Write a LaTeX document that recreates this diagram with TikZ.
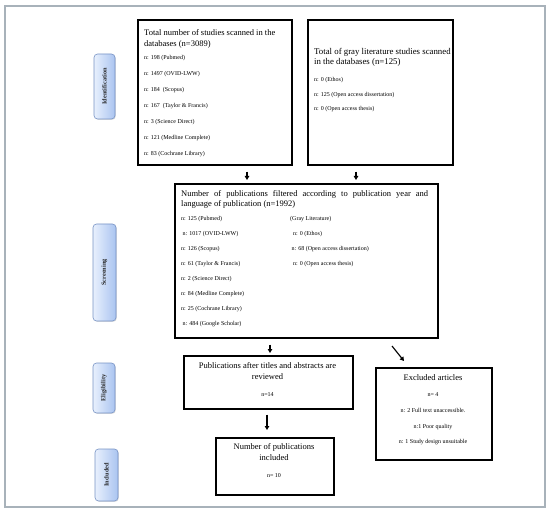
\documentclass[tikz,border=0pt]{standalone}
\usepackage{fontspec}
\setmainfont{Liberation Serif}
\usetikzlibrary{arrows.meta,shadows}
\definecolor{framec}{RGB}{168,178,186}
\definecolor{labL}{RGB}{232,240,253}
\definecolor{labR}{RGB}{170,196,240}
\definecolor{labD}{RGB}{118,146,196}
\begin{document}
\begin{tikzpicture}[x=1pt,y=-1pt,
  box/.style={draw=black,line width=1.6pt,inner sep=0pt,anchor=north west},
  ttl/.style={inner sep=0pt,anchor=north west,align=left,font=\fontsize{8.5}{10.4}\selectfont},
  ctl/.style={inner sep=0pt,anchor=north,align=center,font=\fontsize{8.5}{11}\selectfont},
  ent/.style={inner sep=0pt,anchor=north west,align=left,font=\fontsize{6}{15.9}\selectfont},
  small/.style={inner sep=0pt,anchor=base,font=\fontsize{6}{7}\selectfont},
  lab/.style={draw=labD,line width=0.6pt,rounded corners=3.5pt,left color=labL,right color=labR,
    drop shadow={opacity=0.25,shadow xshift=0.8pt,shadow yshift=-0.8pt},
    inner sep=0pt,font=\fontsize{6.3}{7}\selectfont\bfseries,text=black!85},
  arr/.style={line width=1.1pt,-{Triangle[length=4pt,width=4.5pt]}}]
\useasboundingbox (0,0) rectangle (550,511);
\draw[framec,line width=1.4pt] (5,6) rectangle (545,507);

% stage labels
\node[lab,minimum width=21pt,minimum height=65pt] (lid) at (104.5,86.5) {\rotatebox{90}{Identification}};
\node[lab,minimum width=23pt,minimum height=97pt] (lsc) at (104.5,272.5) {\rotatebox{90}{Screening}};
\node[lab,minimum width=22pt,minimum height=50pt] (lel) at (104,388) {\rotatebox{90}{Eligibility}};
\node[lab,minimum width=23pt,minimum height=52pt] (lin) at (106.5,475) {\rotatebox{90}{Included}};

% box 1
\node[box,minimum width=154pt,minimum height=145pt] (b1) at (137,19) {};
\node[ttl] (t1) at (144,29.5) {Total number of studies scanned in the\\databases (n=3089)};
\node[ent] (e1) at (144,55.5) {n: 198 (Pubmed)\\n: 1497 (OVID-LWW)\\n: 184\ \ (Scopus)\\n: 167\ \ (Taylor \& Francis)\\n: 3 (Science Direct)\\n: 121 (Medline Complete)\\n: 83 (Cochrane Library)};

% box 2
\node[box,minimum width=145pt,minimum height=145pt] (b2) at (307,19) {};
\node[ttl,font=\fontsize{8.8}{10.6}\selectfont] (t2) at (314,48) {Total of gray literature studies scanned\\in the databases (n=125)};
\node[ent,font=\fontsize{6}{14.5}\selectfont] (e2) at (314,77.5) {n: 0 (Ethos)\\n: 125 (Open access dissertation)\\n: 0 (Open access thesis)};

% box 3
\node[box,minimum width=263pt,minimum height=154pt] (b3) at (174,183) {};
\node[ttl] (t3) at (181,190) {\makebox[247pt][s]{Number of publications filtered according to publication year and}\\language of publication (n=1992)};
\node[ent,font=\fontsize{6}{14.9}\selectfont] (e3) at (181,216.5) {n: 125 (Pubmed)\\\hspace{1.5pt}n: 1017 (OVID-LWW)\\n: 126 (Scopus)\\n: 61 (Taylor \& Francis)\\n: 2 (Science Direct)\\n: 84 (Medline Complete)\\n: 25 (Cochrane Library)\\\hspace{1.5pt}n: 484 (Google Scholar)};
\node[ent,font=\fontsize{6}{14.9}\selectfont] (e4) at (290,216.5) {(Gray Literature)\\\hspace{3pt}n: 0 (Ethos)\\\hspace{1.5pt}n: 68 (Open access dissertation)\\\hspace{3pt}n: 0 (Open access thesis)};

% box 4
\node[box,minimum width=169pt,minimum height=53pt] (b4) at (183,355) {};
\node[ctl] (t5) at (267.5,362) {Publications after titles and abstracts are\\reviewed};
\node[small] (n4) at (267.5,396) {n=14};

% box 5
\node[box,minimum width=116pt,minimum height=92pt] (b5) at (375,367) {};
\node[ctl,anchor=base] (t6) at (433,380) {Excluded articles};
\node[ent,anchor=north,align=center,font=\fontsize{6}{15.7}\selectfont] (e6) at (433,392.5) {n= 4\\n: 2 Full text unaccessible.\\n:1 Poor quality\\n: 1 Study design unsuitable};

% box 6
\node[box,minimum width=118pt,minimum height=57pt] (b6) at (215,437) {};
\node[ctl] (t7) at (274,443) {Number of publications\\included};
\node[small] (n6) at (274,477) {n= 10};

% arrows
\coordinate (a1) at (247,0);
\coordinate (a2) at (356,0);
\coordinate (a3) at (270,0);
\coordinate (a4) at (267,0);
\coordinate (d1) at (392,346);
\coordinate (d2) at (404,361);
\draw[arr,shorten <=6pt,shorten >=3pt] (b1.south -| a1) -- (b3.north -| a1);
\draw[arr,shorten <=6pt,shorten >=3pt] (b2.south -| a2) -- (b3.north -| a2);
\draw[arr,shorten <=6pt,shorten >=2pt] (b3.south -| a3) -- (b4.north -| a3);
\draw[arr,shorten <=5pt,shorten >=7pt] (b4.south -| a4) -- (b6.north -| a4);
\draw[arr] (d1) -- (d2);
\end{tikzpicture}
\end{document}
